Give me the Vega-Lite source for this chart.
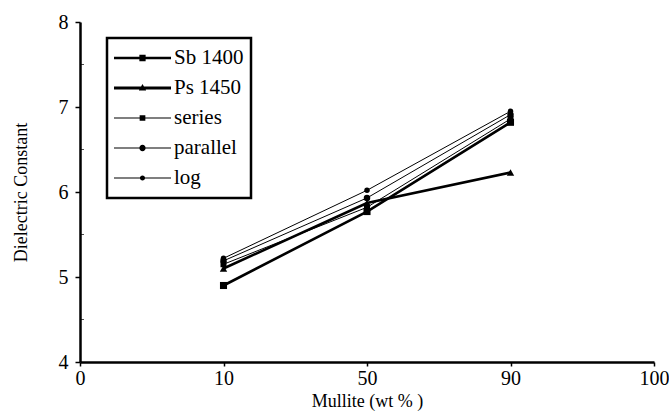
{
  "$schema": "https://vega.github.io/schema/vega-lite/v6.json",
  "autosize": "none",
  "width": 574,
  "height": 340,
  "padding": {"left": 80, "top": 22, "right": 15, "bottom": 58},
  "background": "white",
  "config": {
    "view": {"stroke": null},
    "font": "Liberation Serif",
    "legend": {"strokeWidth": 2.5},
    "axis": {"grid": false, "domainColor": "black", "tickColor": "black", "labelColor": "black", "titleColor": "black", "labelFont": "Liberation Serif", "titleFont": "Liberation Serif", "titleFontWeight": "normal"}
  },
  "data": {
    "values": [
      {"x": "10", "series": "Sb 1400", "y": 4.9},
      {"x": "50", "series": "Sb 1400", "y": 5.77},
      {"x": "90", "series": "Sb 1400", "y": 6.82},
      {"x": "10", "series": "Ps 1450", "y": 5.1},
      {"x": "50", "series": "Ps 1450", "y": 5.87},
      {"x": "90", "series": "Ps 1450", "y": 6.23},
      {"x": "10", "series": "series", "y": 5.15},
      {"x": "50", "series": "series", "y": 5.82},
      {"x": "90", "series": "series", "y": 6.86},
      {"x": "10", "series": "parallel", "y": 5.19},
      {"x": "50", "series": "parallel", "y": 5.93},
      {"x": "90", "series": "parallel", "y": 6.91},
      {"x": "10", "series": "log", "y": 5.22},
      {"x": "50", "series": "log", "y": 6.02},
      {"x": "90", "series": "log", "y": 6.95}
    ]
  },
  "encoding": {
    "x": {
      "field": "x", "type": "ordinal",
      "scale": {"type": "point", "domain": ["0", "10", "50", "90", "100"], "padding": 0},
      "axis": {"title": "Mullite (wt % )", "labelAngle": 0, "labelFontSize": 20, "titleFontSize": 18, "domainWidth": 2.5, "tickSize": 4, "tickWidth": 1.5, "labelPadding": 2, "titlePadding": 4}
    },
    "y": {
      "field": "y", "type": "quantitative",
      "scale": {"domain": [4, 8], "nice": false, "zero": false},
      "axis": {"title": "Dielectric Constant", "values": [4, 5, 6, 7, 8], "labelFontSize": 20, "titleFontSize": 18, "domainWidth": 2.5, "tickSize": 5, "tickWidth": 1.5, "labelPadding": 7, "titlePadding": 28}
    }
  },
  "layer": [
    {
      "mark": {"type": "tick", "orient": "horizontal", "color": "black", "size": 4, "thickness": 1},
      "data": {"values": [{"y": 4.5}, {"y": 5.5}, {"y": 6.5}, {"y": 7.5}]},
      "encoding": {"x": {"value": 2}, "y": {"field": "y", "type": "quantitative"}}
    },
    {
      "mark": {"type": "line", "color": "black"},
      "encoding": {
        "detail": {"field": "series"},
        "strokeWidth": {
          "condition": {"test": "datum.series === 'Sb 1400' || datum.series === 'Ps 1450'", "value": 2.6},
          "value": 1
        }
      }
    },
    {
      "mark": {"type": "point", "filled": true, "color": "black", "opacity": 1},
      "encoding": {
        "detail": {"field": "series"},
        "shape": {
          "condition": [
            {"test": "datum.series === 'Sb 1400' || datum.series === 'series'", "value": "square"},
            {"test": "datum.series === 'Ps 1450'", "value": "triangle-up"}
          ],
          "value": "circle"
        },
        "size": {
          "condition": [
            {"test": "datum.series === 'Sb 1400'", "value": 50},
            {"test": "datum.series === 'Ps 1450'", "value": 55},
            {"test": "datum.series === 'series'", "value": 36},
            {"test": "datum.series === 'parallel'", "value": 42}
          ],
          "value": 30
        }
      }
    },
    {
      "mark": {"type": "point", "filled": true, "color": "black", "opacity": 1},
      "encoding": {
        "size": {"value": 0},
        "shape": {
          "field": "series", "type": "nominal",
          "scale": {
            "domain": ["Sb 1400", "Ps 1450", "series", "parallel", "log"],
            "range": [
              "M-1,-0.046L1,-0.046L1,0.046L-1,0.046Z M-0.11,-0.11L0.11,-0.11L0.11,0.11L-0.11,0.11Z",
              "M-1,-0.05L1,-0.05L1,0.05L-1,0.05Z M0,-0.14L0.13,0.09L-0.13,0.09Z",
              "M-1,-0.02L1,-0.02L1,0.02L-1,0.02Z M-0.1,-0.1L0.1,-0.1L0.1,0.1L-0.1,0.1Z",
              "M-1,-0.02L1,-0.02L1,0.02L-1,0.02Z M0.11,0A0.11,0.11 0 1,1 -0.11,0A0.11,0.11 0 1,1 0.11,0Z",
              "M-1,-0.02L1,-0.02L1,0.02L-1,0.02Z M0.09,0A0.09,0.09 0 1,1 -0.09,0A0.09,0.09 0 1,1 0.09,0Z"
            ]
          },
          "legend": {
            "title": null,
            "orient": "none",
            "legendX": 27,
            "legendY": 16,
            "strokeColor": "black",
            "padding": 7,
            "symbolSize": 3249,
            "clipHeight": 26,
            "rowPadding": 4,
            "symbolFillColor": "black",
            "symbolStrokeColor": "black",
            "symbolStrokeWidth": 0,
            "symbolOpacity": 1,
            "labelFontSize": 21,
            "labelFont": "Liberation Serif",
            "labelColor": "black",
            "labelOffset": 3,
            "labelLimit": 200
          }
        }
      }
    }
  ]
}
